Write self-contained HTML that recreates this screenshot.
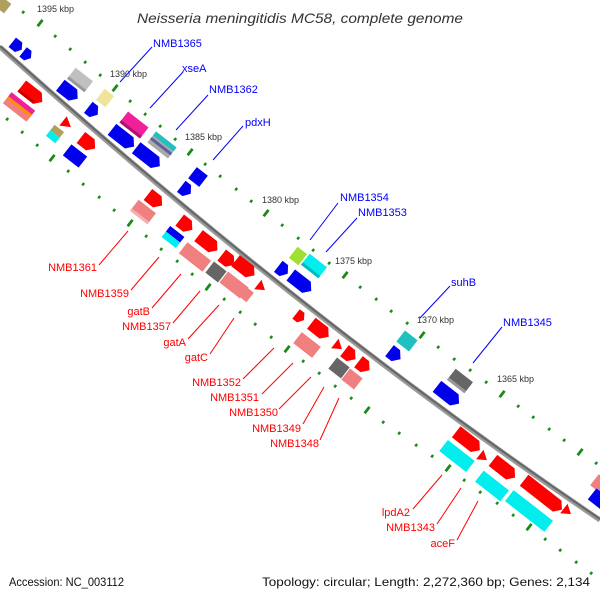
<!DOCTYPE html>
<html><head><meta charset="utf-8"><style>
html,body{margin:0;padding:0;background:#fff;}
svg{display:block;}
text{font-family:"Liberation Sans","DejaVu Sans",sans-serif;}
.b{fill:#0000ff;font-size:11px;}
.r{fill:#ff0000;font-size:11px;text-anchor:end;}
.k{fill:#333;font-size:9px;}
</style></head><body>
<svg width="600" height="600" viewBox="0 0 600 600" xmlns="http://www.w3.org/2000/svg">
<defs>
<g id="dot"><rect x="-1.5" y="-1" width="3" height="2.5" fill="#1a8a1a"/></g>
<g id="dash"><rect x="-4" y="-1.3" width="8" height="2.8" fill="#1a8a1a"/></g>
</defs>
<text x="137" y="23" textLength="326" lengthAdjust="spacingAndGlyphs" font-size="14" font-style="italic" fill="#333">Neisseria meningitidis MC58, complete genome</text>
<path d="M0,47 Q300,317 600,520" stroke="#999" stroke-width="5" fill="none"/>
<path d="M0,46 Q300,316 600,519" stroke="#666" stroke-width="2" fill="none"/>

<g>
<use href="#dot" transform="translate(23,12) rotate(-52)"/>
<use href="#dash" transform="translate(40,23) rotate(-52)"/>
<use href="#dot" transform="translate(55,36) rotate(-52)"/><use href="#dot" transform="translate(70,49) rotate(-52)"/><use href="#dot" transform="translate(85,62) rotate(-52)"/><use href="#dot" transform="translate(100,75) rotate(-52)"/>
<use href="#dash" transform="translate(115,88) rotate(-52)"/>
<use href="#dot" transform="translate(130,101) rotate(-52)"/><use href="#dot" transform="translate(145,114) rotate(-52)"/><use href="#dot" transform="translate(160,126) rotate(-52)"/><use href="#dot" transform="translate(175,139) rotate(-52)"/>
<use href="#dash" transform="translate(190,152) rotate(-52)"/>
<use href="#dot" transform="translate(205,164) rotate(-52)"/><use href="#dot" transform="translate(220,176) rotate(-52)"/><use href="#dot" transform="translate(236,189) rotate(-52)"/><use href="#dot" transform="translate(251,201) rotate(-52)"/>
<use href="#dash" transform="translate(266,213) rotate(-52)"/>
<use href="#dot" transform="translate(282,225) rotate(-52)"/><use href="#dot" transform="translate(298,238) rotate(-52)"/><use href="#dot" transform="translate(313,250) rotate(-52)"/><use href="#dot" transform="translate(329,263) rotate(-52)"/>
<use href="#dash" transform="translate(345,275) rotate(-52)"/>
<use href="#dot" transform="translate(360,287) rotate(-52)"/><use href="#dot" transform="translate(376,299) rotate(-52)"/><use href="#dot" transform="translate(391,311) rotate(-52)"/><use href="#dot" transform="translate(407,323) rotate(-52)"/>
<use href="#dash" transform="translate(422,335) rotate(-52)"/>
<use href="#dot" transform="translate(438,347) rotate(-52)"/><use href="#dot" transform="translate(454,359) rotate(-52)"/><use href="#dot" transform="translate(470,370) rotate(-52)"/><use href="#dot" transform="translate(486,382) rotate(-52)"/>
<use href="#dash" transform="translate(502,394) rotate(-52)"/>
<use href="#dot" transform="translate(518,406) rotate(-52)"/><use href="#dot" transform="translate(533,417) rotate(-52)"/><use href="#dot" transform="translate(549,429) rotate(-52)"/><use href="#dot" transform="translate(564,440) rotate(-52)"/>
<use href="#dash" transform="translate(580,452) rotate(-52)"/>
<use href="#dot" transform="translate(596,463) rotate(-52)"/>
</g>
<g>
<use href="#dot" transform="translate(7,119) rotate(-52)"/><use href="#dot" transform="translate(22,132) rotate(-52)"/><use href="#dot" transform="translate(37,145) rotate(-52)"/>
<use href="#dash" transform="translate(52,158) rotate(-52)"/>
<use href="#dot" transform="translate(68,171) rotate(-52)"/><use href="#dot" transform="translate(83,184) rotate(-52)"/><use href="#dot" transform="translate(99,197) rotate(-52)"/><use href="#dot" transform="translate(114,210) rotate(-52)"/>
<use href="#dash" transform="translate(130,223) rotate(-52)"/>
<use href="#dot" transform="translate(146,236) rotate(-52)"/><use href="#dot" transform="translate(161,249) rotate(-52)"/><use href="#dot" transform="translate(177,261) rotate(-52)"/><use href="#dot" transform="translate(192,274) rotate(-52)"/>
<use href="#dash" transform="translate(208,287) rotate(-52)"/>
<use href="#dot" transform="translate(224,299) rotate(-52)"/><use href="#dot" transform="translate(240,312) rotate(-52)"/><use href="#dot" transform="translate(255,324) rotate(-52)"/><use href="#dot" transform="translate(271,337) rotate(-52)"/>
<use href="#dash" transform="translate(287,349) rotate(-52)"/>
<use href="#dot" transform="translate(303,361) rotate(-52)"/><use href="#dot" transform="translate(319,373) rotate(-52)"/><use href="#dot" transform="translate(335,386) rotate(-52)"/><use href="#dot" transform="translate(351,398) rotate(-52)"/>
<use href="#dash" transform="translate(367,410) rotate(-52)"/>
<use href="#dot" transform="translate(383,422) rotate(-52)"/><use href="#dot" transform="translate(399,433) rotate(-52)"/><use href="#dot" transform="translate(416,445) rotate(-52)"/><use href="#dot" transform="translate(432,456) rotate(-52)"/>
<use href="#dash" transform="translate(448,468) rotate(-52)"/>
<use href="#dot" transform="translate(464,480) rotate(-52)"/><use href="#dot" transform="translate(480,492) rotate(-52)"/><use href="#dot" transform="translate(497,503) rotate(-52)"/><use href="#dot" transform="translate(513,515) rotate(-52)"/>
<use href="#dash" transform="translate(529,527) rotate(-52)"/>
<use href="#dot" transform="translate(545,539) rotate(-52)"/><use href="#dot" transform="translate(560,550) rotate(-52)"/><use href="#dot" transform="translate(576,562) rotate(-52)"/><use href="#dot" transform="translate(591,573) rotate(-52)"/>
</g>

<text class="k" x="37" y="12">1395 kbp</text>
<text class="k" x="110" y="77">1390 kbp</text>
<text class="k" x="185" y="140">1385 kbp</text>
<text class="k" x="262" y="203">1380 kbp</text>
<text class="k" x="335" y="264">1375 kbp</text>
<text class="k" x="417" y="323">1370 kbp</text>
<text class="k" x="497" y="382">1365 kbp</text>

<g transform="translate(3,5) rotate(38)"><rect x="-6" y="-6" width="12" height="12" fill="#b0a060"/></g>
<g transform="translate(17,46) rotate(38)"><polygon points="-6,-6 2,-6 6,0 2,6 -6,6" fill="#0000ee"/></g>
<g transform="translate(27,55) rotate(38)"><polygon points="-5,-6 1,-6 5,0 1,6 -5,6" fill="#0000ee"/></g>
<g transform="translate(80,80) rotate(38)"><rect x="-11" y="-7" width="22" height="14" fill="#c0c0c0"/><rect x="-11" y="4" width="22" height="3" fill="#999"/></g>
<g transform="translate(69,92) rotate(38)"><polygon points="-11,-7 5,-7 11,0 5,7 -11,7" fill="#0000ee"/></g>
<g transform="translate(105,98) rotate(38)"><rect x="-6" y="-7" width="12" height="14" fill="#eee49a"/></g>
<g transform="translate(93,111) rotate(38)"><polygon points="-6,-7 1,-7 6,0 1,7 -6,7" fill="#0000ee"/></g>
<g transform="translate(134,125) rotate(38)"><rect x="-13" y="-7" width="26" height="14" fill="#f0209a"/><rect x="-13" y="4" width="26" height="3" fill="#b0106a"/></g>
<g transform="translate(123,138) rotate(38)"><polygon points="-14,-7 8,-7 14,0 8,7 -14,7" fill="#0000ee"/></g>
<g transform="translate(162,145) rotate(38)"><rect x="-13" y="-7" width="26" height="14" fill="#aaa"/><rect x="-13" y="-7" width="26" height="5" fill="#20c0c0"/><rect x="-13" y="0" width="26" height="3" fill="#6060a0"/></g>
<g transform="translate(148,157) rotate(38)"><polygon points="-15,-7 9,-7 15,0 9,7 -15,7" fill="#0000ee"/></g>
<g transform="translate(198,177) rotate(38)"><rect x="-7" y="-7" width="14" height="14" fill="#0000ee"/></g>
<g transform="translate(186,190) rotate(38)"><polygon points="-6,-7 1,-7 6,0 1,7 -6,7" fill="#0000ee"/></g>
<g transform="translate(298,256) rotate(38)"><rect x="-6" y="-7" width="12" height="14" fill="#a0e030"/></g>
<g transform="translate(314,266) rotate(38)"><rect x="-11" y="-7" width="22" height="14" fill="#00eeee"/><rect x="-11" y="4" width="22" height="3" fill="#00bbbb"/></g>
<g transform="translate(283,270) rotate(38)"><polygon points="-6,-7 1,-7 6,0 1,7 -6,7" fill="#0000ee"/></g>
<g transform="translate(301,283) rotate(38)"><polygon points="-13,-7 7,-7 13,0 7,7 -13,7" fill="#0000ee"/></g>
<g transform="translate(407,341) rotate(38)"><rect x="-8" y="-7" width="16" height="14" fill="#20c0c0"/></g>
<g transform="translate(395,355) rotate(38)"><polygon points="-7,-7 1,-7 7,0 1,7 -7,7" fill="#0000ee"/></g>
<g transform="translate(460,381) rotate(38)"><rect x="-11" y="-7" width="22" height="14" fill="#666"/><rect x="-11" y="4" width="22" height="3" fill="#999"/></g>
<g transform="translate(448,395) rotate(38)"><polygon points="-14,-7 8,-7 14,0 8,7 -14,7" fill="#0000ee"/></g>
<g transform="translate(600,484) rotate(38)"><rect x="-7" y="-7" width="14" height="14" fill="#f08080"/></g>
<g transform="translate(600,500) rotate(38)"><rect x="-10" y="-7" width="20" height="14" fill="#0000ee"/></g>

<g transform="translate(32,94) rotate(38)"><polygon points="-13,-7 7,-7 13,0 7,7 -13,7" fill="#ff0000"/><rect x="-13" y="4" width="20" height="3" fill="#cc0000"/></g>
<g transform="translate(19,107) rotate(38)"><rect x="-15" y="-7" width="30" height="14" fill="#f08080"/><rect x="-15" y="-7" width="30" height="5" fill="#f0209a"/><rect x="-15" y="-2" width="30" height="3" fill="#ff9000"/></g>
<g transform="translate(67,124) rotate(38)"><polygon points="-5,-6 5,0 -5,6" fill="#ff0000"/></g>
<g transform="translate(55,134) rotate(38)"><rect x="-6" y="-7" width="12" height="7" fill="#b0a060"/><rect x="-6" y="0" width="12" height="7" fill="#00eeee"/></g>
<g transform="translate(88,143) rotate(38)"><polygon points="-9,-7 3,-7 9,0 3,7 -9,7" fill="#ff0000"/></g>
<g transform="translate(75,156) rotate(38)"><rect x="-10" y="-7" width="20" height="14" fill="#0000ee"/></g>
<g transform="translate(155,200) rotate(38)"><polygon points="-9,-7 3,-7 9,0 3,7 -9,7" fill="#ff0000"/></g>
<g transform="translate(143,212) rotate(38)"><rect x="-11" y="-7" width="22" height="14" fill="#f08080"/><rect x="-11" y="4" width="22" height="3" fill="#f4b0b0"/></g>
<g transform="translate(186,225) rotate(38)"><polygon points="-8,-7 2,-7 8,0 2,7 -8,7" fill="#ff0000"/></g>
<g transform="translate(173,237) rotate(38)"><rect x="-9" y="-7" width="18" height="7" fill="#0000ee"/><rect x="-9" y="0" width="18" height="7" fill="#00eeee"/></g>
<g transform="translate(208,243) rotate(38)"><polygon points="-12,-7 6,-7 12,0 6,7 -12,7" fill="#ff0000"/></g>
<g transform="translate(195,257) rotate(38)"><rect x="-15" y="-7" width="30" height="14" fill="#f08080"/></g>
<g transform="translate(228,260) rotate(38)"><polygon points="-8,-7 2,-7 8,0 2,7 -8,7" fill="#ff0000"/></g>
<g transform="translate(216,272) rotate(38)"><rect x="-8" y="-7" width="16" height="14" fill="#666"/></g>
<g transform="translate(245,268) rotate(38)"><polygon points="-12,-7 6,-7 12,0 6,7 -12,7" fill="#ff0000"/></g>
<g transform="translate(234,285) rotate(38)"><rect x="-13" y="-7" width="26" height="14" fill="#f08080"/></g>
<g transform="translate(247,295) rotate(38)"><rect x="-4" y="-6" width="8" height="12" fill="#f08080"/></g>
<g transform="translate(261,287) rotate(38)"><polygon points="-4,-6 5,0 -4,6" fill="#ff0000"/></g>
<g transform="translate(300,317) rotate(38)"><polygon points="-5,-6 1,-6 5,0 1,6 -5,6" fill="#ff0000"/></g>
<g transform="translate(320,330) rotate(38)"><polygon points="-11,-7 5,-7 11,0 5,7 -11,7" fill="#ff0000"/></g>
<g transform="translate(307,345) rotate(38)"><rect x="-12" y="-7" width="24" height="14" fill="#f08080"/></g>
<g transform="translate(338,346) rotate(38)"><polygon points="-4,-6 5,0 -4,6" fill="#ff0000"/></g>
<g transform="translate(350,355) rotate(38)"><polygon points="-7,-7 1,-7 7,0 1,7 -7,7" fill="#ff0000"/></g>
<g transform="translate(339,368) rotate(38)"><rect x="-8" y="-7" width="16" height="14" fill="#666"/></g>
<g transform="translate(364,366) rotate(38)"><polygon points="-7,-7 1,-7 7,0 1,7 -7,7" fill="#ff0000"/></g>
<g transform="translate(352,379) rotate(38)"><rect x="-8" y="-7" width="16" height="14" fill="#f08080"/></g>
<g transform="translate(468,441) rotate(38)"><polygon points="-15,-7 9,-7 15,0 9,7 -15,7" fill="#ff0000"/></g>
<g transform="translate(457,456) rotate(38)"><rect x="-17" y="-7" width="34" height="14" fill="#00eeee"/></g>
<g transform="translate(483,457) rotate(38)"><polygon points="-4,-6 5,0 -4,6" fill="#ff0000"/></g>
<g transform="translate(504,469) rotate(38)"><polygon points="-14,-7 8,-7 14,0 8,7 -14,7" fill="#ff0000"/></g>
<g transform="translate(492,486) rotate(38)"><rect x="-16" y="-7" width="32" height="14" fill="#00eeee"/></g>
<g transform="translate(543,495) rotate(38)"><polygon points="-24,-7 18,-7 24,0 18,7 -24,7" fill="#ff0000"/></g>
<g transform="translate(529,511) rotate(38)"><rect x="-25" y="-7" width="50" height="14" fill="#00eeee"/></g>
<g transform="translate(567,511) rotate(38)"><polygon points="-4,-6 5,0 -4,6" fill="#ff0000"/></g>

<g stroke="#0000ff" stroke-width="1">
<line x1="152" y1="47" x2="120" y2="82"/><line x1="183" y1="72" x2="150" y2="108"/>
<line x1="208" y1="95" x2="176" y2="130"/><line x1="243" y1="126" x2="213" y2="160"/>
<line x1="338" y1="203" x2="310" y2="240"/><line x1="357" y1="218" x2="326" y2="252"/>
<line x1="450" y1="286" x2="420" y2="318"/><line x1="502" y1="327" x2="473" y2="363"/>
</g>
<text class="b" x="153" y="47">NMB1365</text>
<text class="b" x="182" y="72">xseA</text>
<text class="b" x="209" y="93">NMB1362</text>
<text class="b" x="245" y="126">pdxH</text>
<text class="b" x="340" y="201">NMB1354</text>
<text class="b" x="358" y="216">NMB1353</text>
<text class="b" x="451" y="286">suhB</text>
<text class="b" x="503" y="326">NMB1345</text>

<g stroke="#ff0000" stroke-width="1">
<line x1="99" y1="265" x2="128" y2="231"/><line x1="131" y1="290" x2="159" y2="257"/>
<line x1="152" y1="308" x2="181" y2="274"/><line x1="173" y1="323" x2="200" y2="291"/>
<line x1="188" y1="339" x2="219" y2="305"/><line x1="210" y1="354" x2="234" y2="318"/>
<line x1="243" y1="379" x2="274" y2="348"/><line x1="262" y1="394" x2="293" y2="363"/>
<line x1="279" y1="409" x2="311" y2="377"/><line x1="303" y1="424" x2="324" y2="387"/>
<line x1="320" y1="440" x2="339" y2="398"/><line x1="413" y1="509" x2="442" y2="475"/>
<line x1="437" y1="524" x2="461" y2="488"/><line x1="457" y1="540" x2="478" y2="501"/>
</g>
<text class="r" x="97" y="271">NMB1361</text>
<text class="r" x="129" y="297">NMB1359</text>
<text class="r" x="150" y="315">gatB</text>
<text class="r" x="171" y="330">NMB1357</text>
<text class="r" x="186" y="346">gatA</text>
<text class="r" x="208" y="361">gatC</text>
<text class="r" x="241" y="386">NMB1352</text>
<text class="r" x="259" y="401">NMB1351</text>
<text class="r" x="278" y="416">NMB1350</text>
<text class="r" x="301" y="432">NMB1349</text>
<text class="r" x="319" y="447">NMB1348</text>
<text class="r" x="410" y="516">lpdA2</text>
<text class="r" x="435" y="531">NMB1343</text>
<text class="r" x="455" y="547">aceF</text>

<text x="9" y="586" font-size="12" fill="#111" textLength="115" lengthAdjust="spacingAndGlyphs">Accession: NC_003112</text>
<text x="262" y="586" font-size="12" fill="#111" textLength="328" lengthAdjust="spacingAndGlyphs">Topology: circular; Length: 2,272,360 bp; Genes: 2,134</text>
</svg>
</body></html>
